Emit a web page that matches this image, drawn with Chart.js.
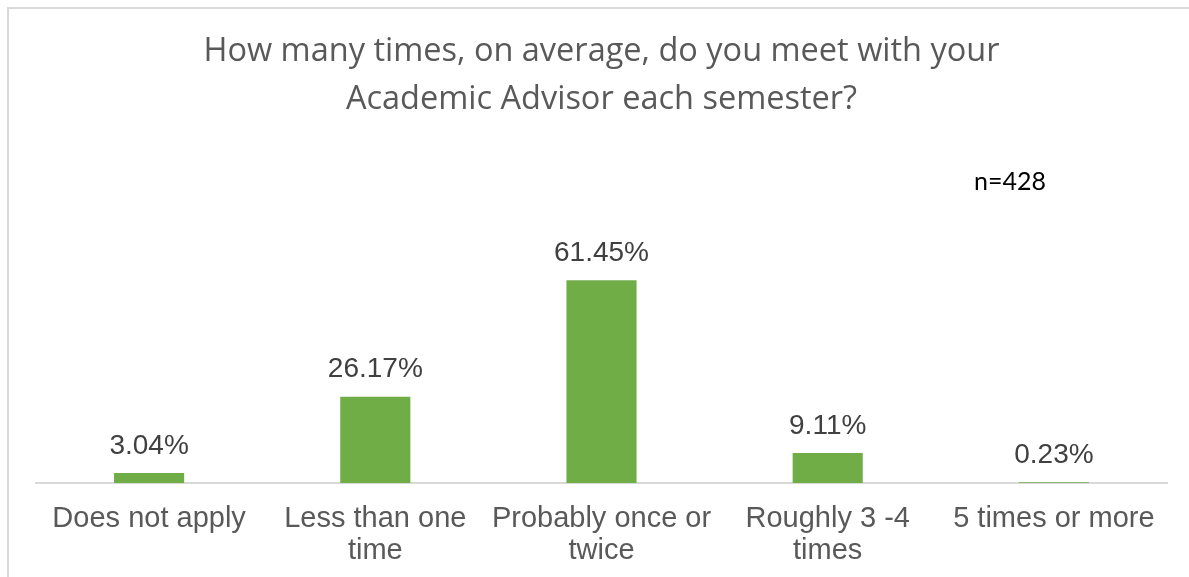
<!DOCTYPE html>
<html lang="en">
<head>
    <meta charset="UTF-8">
    <title>Academic Advisor meetings</title>
    <script src="https://cdn.jsdelivr.net/npm/chart.js"></script>
    <style>
        body { margin: 0; background: #fff; }
    </style>
</head>
<body>
    <canvas id="advisorChart" width="1189" height="577"></canvas>

    <script>
        // Données
        const categories = [
            ['Does not apply'],
            ['Less than one', 'time'],
            ['Probably once or', 'twice'],
            ['Roughly 3 -4', 'times'],
            ['5 times or more']
        ];
        const percentages = [3.04, 26.17, 61.45, 9.11, 0.23];
        const titleLines = [
            'How many times, on average, do you meet with your',
            'Academic Advisor each semester?'
        ];
        const sampleNote = 'n=428';

        // Cadre gris + fond blanc
        const framePlugin = {
            id: 'frame',
            beforeDraw(chart) {
                const ctx = chart.ctx;
                ctx.save();
                ctx.fillStyle = '#ffffff';
                ctx.fillRect(0, 0, chart.width, chart.height);
                ctx.strokeStyle = '#d9d9d9';
                ctx.lineWidth = 2;
                ctx.beginPath();
                ctx.moveTo(8, chart.height);
                ctx.lineTo(8, 8);
                ctx.lineTo(chart.width, 8);
                ctx.stroke();
                ctx.restore();
            }
        };

        // Etiquettes de valeur au-dessus des barres + note n=428
        const labelPlugin = {
            id: 'valueLabels',
            afterDatasetsDraw(chart) {
                const ctx = chart.ctx;
                const meta = chart.getDatasetMeta(0);
                ctx.save();
                ctx.font = '28px "Liberation Sans", Arial, sans-serif';
                ctx.fillStyle = '#404040';
                ctx.textAlign = 'center';
                ctx.textBaseline = 'bottom';
                meta.data.forEach((bar, i) => {
                    ctx.fillText(percentages[i].toFixed(2) + '%', bar.x, bar.y - 13);
                });
                ctx.font = '25px Lato, "Noto Sans", sans-serif';
                ctx.fillStyle = '#000000';
                ctx.textBaseline = 'middle';
                ctx.fillText(sampleNote, 1010, 182);
                ctx.restore();
            }
        };

        const ctx = document.getElementById('advisorChart').getContext('2d');
        new Chart(ctx, {
            type: 'bar',
            data: {
                labels: categories,
                datasets: [{
                    data: percentages,
                    backgroundColor: '#70ad47',
                    categoryPercentage: 1,
                    barPercentage: 0.31
                }]
            },
            options: {
                responsive: false,
                animation: false,
                layout: {
                    padding: { left: 36, right: 22, top: 0, bottom: -10 }
                },
                plugins: {
                    legend: { display: false },
                    tooltip: { enabled: false },
                    title: {
                        display: true,
                        text: titleLines,
                        color: '#595959',
                        font: { family: '"Open Sans", Lato, sans-serif', size: 32.5, weight: 'normal', lineHeight: 1.477 },
                        padding: { top: 28, bottom: 29 }
                    }
                },
                scales: {
                    x: {
                        grid: { display: false, drawTicks: false },
                        border: { color: '#d9d9d9', width: 2 },
                        ticks: {
                            color: '#595959',
                            padding: 20,
                            maxRotation: 0,
                            autoSkip: false,
                            font: { family: '"Liberation Sans", Arial, sans-serif', size: 29, lineHeight: 1.103 }
                        }
                    },
                    y: {
                        display: false,
                        min: 0,
                        max: 100
                    }
                }
            },
            plugins: [framePlugin, labelPlugin]
        });
    </script>
</body>
</html>
